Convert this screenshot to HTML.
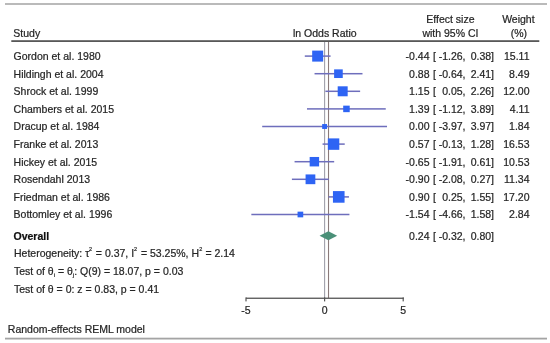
<!DOCTYPE html>
<html><head><meta charset="utf-8"><style>
html,body{margin:0;padding:0;background:#fff;}
body{width:550px;height:343px;overflow:hidden;}
svg{display:block;filter:blur(0.25px);}
text{font-family:"Liberation Sans",sans-serif;font-size:10.5px;fill:#262626;stroke:#262626;stroke-width:0.22px;}
.r{text-anchor:end;}
.m{text-anchor:middle;}
</style></head><body>
<svg width="550" height="343" viewBox="0 0 550 343">
<rect x="0" y="0" width="550" height="343" fill="#fff"/>
<rect x="5" y="3" width="542" height="2" fill="#bababa"/>
<rect x="5" y="337.7" width="542" height="1.8" fill="#a4a4a4"/>
<text x="13.3" y="37.1">Study</text>
<text class="m" x="324.8" y="37.3">ln Odds Ratio</text>
<text class="m" x="450.4" y="22.6">Effect size</text>
<text class="m" x="450.4" y="36.8">with 95% CI</text>
<text class="m" x="518.4" y="22.6">Weight</text>
<text class="m" x="518.9" y="37.0">(%)</text>
<rect x="11.3" y="40.2" width="528" height="1.8" fill="#585858"/>

<rect x="324.05" y="42" width="1.1" height="256" fill="#a0a0aa"/>
<rect x="327.97" y="42" width="1.1" height="256" fill="#8a7a7a"/>
<text x="13.6" y="60.00">Gordon et al. 1980</text>
<rect x="304.79" y="55.35" width="25.78" height="1.5" fill="#6e6ebc"/>
<rect x="312.18" y="50.60" width="11.00" height="11.00" fill="#2e64f4"/>
<text class="r" x="429.5" y="60.00">-0.44</text>
<text x="433" y="60.00">[</text>
<text class="r" x="465.5" y="60.00">-1.26,</text>
<text class="r" x="494" y="60.00">0.38]</text>
<text class="r" x="529.5" y="60.00">15.11</text>
<text x="13.6" y="77.60">Hildingh et al. 2004</text>
<rect x="314.54" y="72.95" width="47.95" height="1.5" fill="#6e6ebc"/>
<rect x="334.11" y="69.37" width="8.65" height="8.65" fill="#2e64f4"/>
<text class="r" x="429.5" y="77.60">0.88</text>
<text x="433" y="77.60">[</text>
<text class="r" x="465.5" y="77.60">-0.64,</text>
<text class="r" x="494" y="77.60">2.41]</text>
<text class="r" x="529.5" y="77.60">8.49</text>
<text x="13.6" y="95.20">Shrock et al. 1999</text>
<rect x="325.39" y="90.55" width="34.74" height="1.5" fill="#6e6ebc"/>
<rect x="337.69" y="86.31" width="9.98" height="9.98" fill="#2e64f4"/>
<text class="r" x="429.5" y="95.20">1.15</text>
<text x="433" y="95.20">[</text>
<text class="r" x="465.5" y="95.20">0.05,</text>
<text class="r" x="494" y="95.20">2.26]</text>
<text class="r" x="529.5" y="95.20">12.00</text>
<text x="13.6" y="112.80">Chambers et al. 2015</text>
<rect x="306.99" y="108.15" width="78.76" height="1.5" fill="#6e6ebc"/>
<rect x="343.19" y="105.64" width="6.52" height="6.52" fill="#2e64f4"/>
<text class="r" x="429.5" y="112.80">1.39</text>
<text x="433" y="112.80">[</text>
<text class="r" x="465.5" y="112.80">-1.12,</text>
<text class="r" x="494" y="112.80">3.89]</text>
<text class="r" x="529.5" y="112.80">4.11</text>
<text x="13.6" y="130.40">Dracup et al. 1984</text>
<rect x="262.19" y="125.75" width="124.82" height="1.5" fill="#6e6ebc"/>
<rect x="322.15" y="124.05" width="4.90" height="4.90" fill="#2e64f4"/>
<text class="r" x="429.5" y="130.40">0.00</text>
<text x="433" y="130.40">[</text>
<text class="r" x="465.5" y="130.40">-3.97,</text>
<text class="r" x="494" y="130.40">3.97]</text>
<text class="r" x="529.5" y="130.40">1.84</text>
<text x="13.6" y="148.00">Franke et al. 2013</text>
<rect x="322.56" y="143.35" width="22.17" height="1.5" fill="#6e6ebc"/>
<rect x="327.85" y="138.39" width="11.43" height="11.43" fill="#2e64f4"/>
<text class="r" x="429.5" y="148.00">0.57</text>
<text x="433" y="148.00">[</text>
<text class="r" x="465.5" y="148.00">-0.13,</text>
<text class="r" x="494" y="148.00">1.28]</text>
<text class="r" x="529.5" y="148.00">16.53</text>
<text x="13.6" y="165.60">Hickey et al. 2015</text>
<rect x="294.57" y="160.95" width="39.61" height="1.5" fill="#6e6ebc"/>
<rect x="309.66" y="156.97" width="9.45" height="9.45" fill="#2e64f4"/>
<text class="r" x="429.5" y="165.60">-0.65</text>
<text x="433" y="165.60">[</text>
<text class="r" x="465.5" y="165.60">-1.91,</text>
<text class="r" x="494" y="165.60">0.61]</text>
<text class="r" x="529.5" y="165.60">10.53</text>
<text x="13.6" y="183.20">Rosendahl 2013</text>
<rect x="291.90" y="178.55" width="36.94" height="1.5" fill="#6e6ebc"/>
<rect x="305.58" y="174.43" width="9.75" height="9.75" fill="#2e64f4"/>
<text class="r" x="429.5" y="183.20">-0.90</text>
<text x="433" y="183.20">[</text>
<text class="r" x="465.5" y="183.20">-2.08,</text>
<text class="r" x="494" y="183.20">0.27]</text>
<text class="r" x="529.5" y="183.20">11.34</text>
<text x="13.6" y="200.80">Friedman et al. 1986</text>
<rect x="328.53" y="196.15" width="20.44" height="1.5" fill="#6e6ebc"/>
<rect x="332.94" y="191.09" width="11.62" height="11.62" fill="#2e64f4"/>
<text class="r" x="429.5" y="200.80">0.90</text>
<text x="433" y="200.80">[</text>
<text class="r" x="465.5" y="200.80">0.25,</text>
<text class="r" x="494" y="200.80">1.55]</text>
<text class="r" x="529.5" y="200.80">17.20</text>
<text x="13.6" y="218.40">Bottomley et al. 1996</text>
<rect x="251.34" y="213.75" width="98.09" height="1.5" fill="#6e6ebc"/>
<rect x="297.55" y="211.65" width="5.69" height="5.69" fill="#2e64f4"/>
<text class="r" x="429.5" y="218.40">-1.54</text>
<text x="433" y="218.40">[</text>
<text class="r" x="465.5" y="218.40">-4.66,</text>
<text class="r" x="494" y="218.40">1.58]</text>
<text class="r" x="529.5" y="218.40">2.84</text>
<text x="13.5" y="239.7" style="font-weight:bold;fill:#111;stroke:#111">Overall</text>
<polygon points="319.57,235.8 328.37,231.3 337.18,235.8 328.37,240.3" fill="#4a9078"/>
<text class="r" x="429.5" y="239.7">0.24</text>
<text x="433" y="239.7">[</text>
<text class="r" x="465.5" y="239.7">-0.32,</text>
<text class="r" x="494" y="239.7">0.80]</text>
<text x="14" y="257.3">Heterogeneity: τ<tspan dx="-0.3" dy="-6.5" style="font-size:5.5px">2</tspan><tspan dx="0.8" dy="6.5"> = 0.37, I</tspan><tspan dx="-0.2" dy="-6.5" style="font-size:5.5px">2</tspan><tspan dx="1.1" dy="6.5"> = 53.25%, H</tspan><tspan dx="0.1" dy="-6.5" style="font-size:5.5px">2</tspan><tspan dx="0.3" dy="6.5"> = 2.14</tspan></text>
<text x="14" y="275.3">Test of θ<tspan dy="2" style="font-size:6px">i</tspan><tspan dy="-2"> = θ</tspan><tspan dy="2" style="font-size:6px">j</tspan><tspan dy="-2">: Q(9) = 18.07, p = 0.03</tspan></text>
<text x="14" y="292.8">Test of θ = 0: z = 0.83, p = 0.41</text>
<rect x="246.00" y="297.6" width="157.80" height="1.3" fill="#555"/>
<rect x="245.40" y="297.4" width="1.2" height="4" fill="#555"/>
<text class="m" x="246.00" y="313.7">-5</text>
<rect x="324.00" y="297.4" width="1.2" height="4" fill="#555"/>
<text class="m" x="324.60" y="313.7">0</text>
<rect x="402.60" y="297.4" width="1.2" height="4" fill="#555"/>
<text class="m" x="403.20" y="313.7">5</text>
<text x="7.8" y="332.5">Random-effects REML model</text>
</svg></body></html>
